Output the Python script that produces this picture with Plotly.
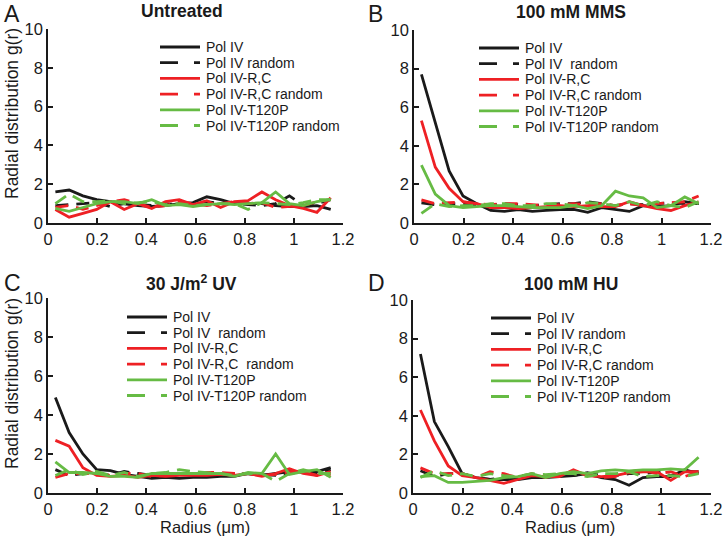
import plotly.graph_objects as go

W, H = 728, 543

radius = [0.03, 0.086, 0.142, 0.198, 0.254, 0.31, 0.366, 0.422, 0.478, 0.534, 0.59,
          0.646, 0.702, 0.758, 0.814, 0.87, 0.926, 0.982, 1.038, 1.094, 1.15]

# Panel A - Untreated
a_pol4 = [1.6, 1.7, 1.4, 1.2, 1.1, 1.0, 0.9, 0.85, 0.9, 1.0, 1.05, 1.35, 1.2, 1.0, 1.0, 1.0, 0.9, 0.85, 0.85, 0.9, 0.7]
a_pol4_rand = [0.9, 0.95, 1.0, 1.05, 0.85, 1.0, 0.95, 0.9, 1.0, 0.95, 1.0, 1.1, 1.0, 1.0, 0.95, 0.9, 1.0, 1.4, 0.9, 1.0, 1.2]
a_rc = [0.7, 0.3, 0.5, 0.7, 1.1, 0.7, 1.0, 0.75, 1.1, 1.2, 0.95, 1.15, 0.8, 1.1, 1.15, 1.6, 1.2, 0.9, 0.75, 0.55, 1.3]
a_rc_rand = [0.8, 0.9, 0.7, 0.9, 1.1, 1.2, 1.0, 0.8, 0.9, 1.1, 1.0, 0.9, 1.0, 1.1, 1.0, 1.05, 0.8, 0.85, 0.9, 1.1, 1.2]
a_t120p = [0.75, 0.6, 0.8, 1.0, 1.1, 1.1, 1.0, 1.2, 0.9, 0.95, 0.85, 0.95, 1.0, 0.95, 1.0, 1.05, 1.6, 1.0, 0.9, 1.1, 1.2]
a_t120p_rand = [1.0, 1.5, 1.1, 1.1, 1.15, 1.0, 1.05, 1.1, 0.95, 1.0, 0.9, 0.95, 1.0, 1.0, 0.7, 1.05, 1.0, 0.95, 1.05, 1.2, 1.2]

# Panel B - 100 mM MMS
b_pol4 = [7.7, 5.2, 2.7, 1.4, 1.0, 0.65, 0.6, 0.7, 0.6, 0.65, 0.7, 0.7, 0.55, 0.8, 0.7, 0.6, 0.9, 0.85, 0.9, 1.1, 1.0]
b_pol4_rand = [1.05, 0.95, 1.0, 1.0, 0.95, 0.9, 1.0, 0.95, 0.9, 0.95, 1.0, 1.0, 1.1, 1.0, 0.9, 1.0, 0.95, 1.0, 1.05, 1.0, 1.0]
b_rc = [5.3, 2.9, 1.8, 1.1, 1.0, 0.8, 0.8, 0.75, 0.8, 0.85, 0.9, 0.85, 0.9, 0.85, 0.85, 1.1, 0.9, 0.75, 0.65, 0.9, 1.1]
b_rc_rand = [1.2, 1.0, 1.05, 1.1, 1.0, 0.95, 1.0, 1.0, 0.95, 0.9, 0.95, 1.0, 0.95, 1.0, 0.9, 1.0, 0.9, 1.0, 1.05, 1.1, 1.4]
b_t120p = [3.0, 1.5, 0.9, 0.8, 0.85, 0.9, 0.9, 0.85, 0.8, 0.8, 0.8, 0.9, 0.75, 0.9, 1.65, 1.4, 1.3, 0.8, 0.9, 1.35, 1.0]
b_t120p_rand = [0.5, 1.0, 0.85, 0.9, 0.9, 1.0, 1.0, 0.9, 0.9, 1.0, 1.0, 0.9, 1.05, 1.0, 0.9, 1.1, 0.9, 1.1, 0.9, 0.8, 1.1]

# Panel C - 30 J/m2 UV
c_pol4 = [4.9, 3.1, 2.0, 1.2, 1.15, 0.95, 0.85, 0.75, 0.8, 0.75, 0.8, 0.8, 0.85, 0.85, 1.0, 0.9, 1.0, 1.1, 1.1, 1.1, 1.3]
c_pol4_rand = [1.2, 0.9, 1.0, 1.0, 0.9, 1.1, 1.0, 0.9, 0.9, 0.95, 1.0, 0.95, 1.0, 0.95, 1.0, 0.95, 0.9, 1.0, 1.1, 1.0, 1.2]
c_rc = [2.7, 2.4, 1.3, 0.9, 0.85, 0.9, 0.8, 0.9, 0.85, 0.9, 0.9, 0.9, 0.95, 0.9, 1.0, 0.85, 1.0, 1.25, 1.0, 0.9, 1.1]
c_rc_rand = [0.8, 1.0, 1.0, 1.0, 0.9, 1.0, 1.0, 0.85, 0.9, 1.0, 1.0, 1.05, 1.05, 1.0, 1.0, 0.9, 0.95, 1.1, 1.1, 0.9, 0.95]
c_t120p = [1.6, 1.05, 1.05, 1.0, 0.85, 0.85, 0.8, 1.0, 1.0, 1.0, 1.0, 1.0, 1.0, 0.85, 1.05, 1.0, 2.0, 0.95, 1.1, 1.2, 0.8]
c_t120p_rand = [0.9, 1.2, 0.95, 1.1, 0.9, 1.05, 0.85, 1.0, 1.05, 1.2, 1.1, 1.05, 1.0, 0.9, 1.0, 1.0, 0.6, 1.0, 1.2, 1.0, 1.0]

# Panel D - 100 mM HU
d_pol4 = [7.2, 3.7, 2.4, 1.0, 0.8, 0.7, 0.7, 0.7, 0.8, 0.8, 0.85, 0.9, 1.0, 0.8, 0.7, 0.4, 0.8, 0.85, 0.85, 1.2, 1.0]
d_pol4_rand = [1.15, 0.85, 1.0, 1.0, 0.8, 0.7, 0.8, 0.75, 0.9, 0.85, 1.0, 0.9, 1.05, 0.9, 0.9, 1.0, 1.0, 1.1, 0.9, 1.1, 1.1]
d_rc = [4.3, 2.7, 1.4, 0.9, 0.8, 0.65, 0.5, 0.7, 0.9, 0.85, 0.85, 1.2, 0.9, 0.85, 0.9, 1.05, 1.1, 1.1, 0.65, 1.1, 1.1]
d_rc_rand = [1.3, 1.0, 1.0, 1.0, 0.8, 1.1, 1.0, 0.8, 1.0, 0.8, 1.0, 1.0, 0.95, 0.8, 0.85, 1.1, 1.2, 1.0, 1.1, 0.85, 1.1]
d_t120p = [0.85, 0.9, 0.55, 0.55, 0.6, 0.65, 0.8, 0.85, 1.0, 0.8, 1.0, 1.1, 1.0, 1.15, 1.2, 1.15, 1.2, 1.2, 1.25, 1.2, 1.85]
d_t120p_rand = [0.8, 1.15, 0.9, 1.0, 0.85, 1.0, 0.9, 0.85, 1.0, 0.95, 1.0, 1.0, 0.85, 1.0, 1.0, 1.1, 0.85, 0.9, 0.9, 0.85, 1.0]

names_a = ["Pol IV", "Pol IV random", "Pol IV-R,C", "Pol IV-R,C random", "Pol IV-T120P", "Pol IV-T120P random"]
names_b = ["Pol IV", "Pol IV\u00a0 random", "Pol IV-R,C", "Pol IV-R,C random", "Pol IV-T120P", "Pol IV-T120P random"]
names_c = ["Pol IV", "Pol IV\u00a0 random", "Pol IV-R,C", "Pol IV-R,C\u00a0 random", "Pol IV-T120P", "Pol IV-T120P random"]
names_d = ["Pol IV", "Pol IV random", "Pol IV-R,C", "Pol IV-R,C random", "Pol IV-T120P", "Pol IV-T120P random"]

titles = ["Untreated", "100 mM MMS", "30 J/m<sup>2</sup> UV", "100 mM HU"]
letters = ["A", "B", "C", "D"]

x_ticks = [0, 0.2, 0.4, 0.6, 0.8, 1.0, 1.2]
x_ticklabels = ["0", "0.2", "0.4", "0.6", "0.8", "1", "1.2"]
y_ticks = [0, 2, 4, 6, 8, 10]

BLACK = "#1a1a1a"
RED = "#ee2024"
GREEN = "#66bb44"
colors = [BLACK, BLACK, RED, RED, GREEN, GREEN]
DASH = "13px,8px"
dashes = ["solid", DASH, "solid", DASH, "solid", DASH]
LEG_DASH = "18px,16px"

FONT = "Liberation Sans, Arial, sans-serif"

panels = [
    dict(series=[a_pol4, a_pol4_rand, a_rc, a_rc_rand, a_t120p, a_t120p_rand], names=names_a,
         px=(48, 343), py=(29, 223), legend=(160, 47), title=(182, 11), letter=(2, 14)),
    dict(series=[b_pol4, b_pol4_rand, b_rc, b_rc_rand, b_t120p, b_t120p_rand], names=names_b,
         px=(414, 711), py=(30, 223), legend=(479, 48), title=(571, 12), letter=(366, 14)),
    dict(series=[c_pol4, c_pol4_rand, c_rc, c_rc_rand, c_t120p, c_t120p_rand], names=names_c,
         px=(48, 343), py=(298, 493), legend=(127, 317), title=(191, 283), letter=(2, 283)),
    dict(series=[d_pol4, d_pol4_rand, d_rc, d_rc_rand, d_t120p, d_t120p_rand], names=names_d,
         px=(413, 711), py=(300, 493), legend=(491, 318), title=(571, 284), letter=(366, 283)),
]

ROW = 15.7
fig = go.Figure()
annotations = []
shapes = []
for i, p in enumerate(panels):
    idx = "" if i == 0 else str(i + 1)
    for k, (ys, nm) in enumerate(zip(p["series"], p["names"])):
        fig.add_trace(go.Scatter(
            x=radius, y=ys, mode="lines", name=nm,
            line=dict(color=colors[k], width=2.8, dash=dashes[k]),
            xaxis="x" + idx, yaxis="y" + idx, showlegend=False,
        ))
        # legend key + label
        lx, ly = p["legend"]
        yy = 1 - (ly + k * ROW) / H
        shapes.append(dict(type="line", xref="paper", yref="paper", x0=lx / W, x1=(lx + 40) / W,
                           y0=yy, y1=yy, line=dict(color=colors[k], width=2.8,
                                                   dash="solid" if dashes[k] == "solid" else LEG_DASH)))
        annotations.append(dict(text=nm, x=(lx + 44) / W, y=yy, xref="paper", yref="paper",
                                showarrow=False, xanchor="left", yanchor="middle",
                                font=dict(family=FONT, size=14, color=BLACK)))
    x0, x1 = p["px"]
    y0, y1 = p["py"]
    common = dict(showline=True, linecolor=BLACK, linewidth=1.5, ticks="inside",
                  ticklen=5, tickwidth=1.5, tickcolor=BLACK, showgrid=False, zeroline=False,
                  tickfont=dict(family=FONT, size=16.5, color=BLACK), mirror=False, automargin=False)
    fig.update_layout(**{
        "xaxis" + idx: dict(domain=[x0 / W, x1 / W], range=[0, 1.2], tickvals=x_ticks,
                            ticktext=x_ticklabels, anchor="y" + idx, **common),
        "yaxis" + idx: dict(domain=[1 - y1 / H, 1 - y0 / H], range=[0, 10], tickvals=y_ticks,
                            anchor="x" + idx, **common),
    })
    annotations.append(dict(text="<b>" + titles[i] + "</b>", x=p["title"][0] / W, y=1 - p["title"][1] / H,
                            xref="paper", yref="paper", showarrow=False, xanchor="center", yanchor="middle",
                            font=dict(family=FONT, size=17.5, color=BLACK)))
    annotations.append(dict(text=letters[i], x=p["letter"][0] / W, y=1 - p["letter"][1] / H,
                            xref="paper", yref="paper", showarrow=False, xanchor="left", yanchor="middle",
                            font=dict(family=FONT, size=23, color=BLACK)))

for yc in (114, 384):
    annotations.append(dict(text="Radial distribution g(r)", x=12 / W, y=1 - yc / H, xref="paper", yref="paper",
                            showarrow=False, textangle=-90, xanchor="center", yanchor="middle",
                            font=dict(family=FONT, size=17.5, color=BLACK)))
for xc in (205, 570):
    annotations.append(dict(text="Radius (\u03bcm)", x=xc / W, y=1 - 527 / H, xref="paper", yref="paper",
                            showarrow=False, xanchor="center", yanchor="middle",
                            font=dict(family=FONT, size=16.5, color=BLACK)))

fig.update_layout(width=W, height=H, margin=dict(l=0, r=0, t=0, b=0), paper_bgcolor="white",
                  plot_bgcolor="white", annotations=annotations, shapes=shapes, showlegend=False)

fig.write_html("out.html", config={"displayModeBar": False},
               post_script="document.body.style.margin='0px';document.body.style.overflow='hidden';")
